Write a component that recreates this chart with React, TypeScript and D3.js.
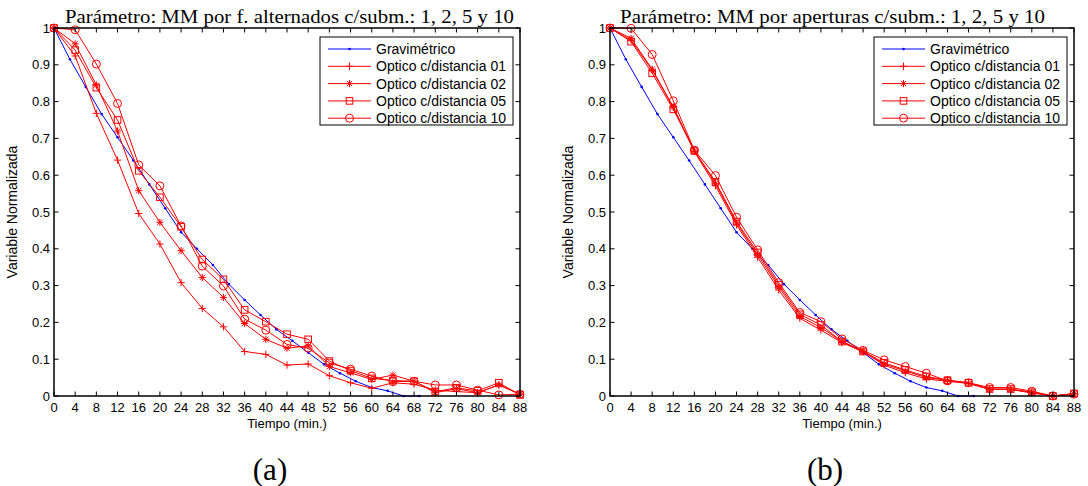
import React from "react";
import * as d3 from "d3";

// ---------- data ----------
const xTicks = [0, 4, 8, 12, 16, 20, 24, 28, 32, 36, 40, 44, 48, 52, 56, 60, 64, 68, 72, 76, 80, 84, 88];
const yTicks = [0, 0.1, 0.2, 0.3, 0.4, 0.5, 0.6, 0.7, 0.8, 0.9, 1];
const yTickLabels = ["0", "0.1", "0.2", "0.3", "0.4", "0.5", "0.6", "0.7", "0.8", "0.9", "1"];

const tOptic = [0, 4, 8, 12, 16, 20, 24, 28, 32, 36, 40, 44, 48, 52, 56, 60, 64, 68, 72, 76, 80, 84, 88];
const tGrav = [0, 3, 6, 9, 12, 15, 18, 21, 24, 27, 30, 33, 36, 39, 42, 45, 48, 51, 54, 57, 60, 63, 66, 69];
const grav = [1, 0.915, 0.84, 0.766, 0.703, 0.64, 0.575, 0.51, 0.445, 0.4, 0.356, 0.304, 0.261, 0.22, 0.181, 0.15, 0.118, 0.086, 0.062, 0.04, 0.023, 0.014, 0, 0];

// panel (a)
const o01a = [1, 0.924, 0.768, 0.641, 0.496, 0.413, 0.308, 0.238, 0.188, 0.121, 0.113, 0.084, 0.087, 0.055, 0.036, 0.021, 0.036, 0.032, 0.016, 0.012, 0.009, 0.03, 0.005];
const o02a = [1, 0.957, 0.845, 0.72, 0.558, 0.472, 0.395, 0.322, 0.268, 0.197, 0.154, 0.13, 0.136, 0.08, 0.063, 0.045, 0.057, 0.04, 0.009, 0.02, 0.009, 0.03, 0.005];
const o05a = [1, 0.94, 0.838, 0.75, 0.612, 0.54, 0.46, 0.371, 0.317, 0.234, 0.202, 0.168, 0.154, 0.095, 0.069, 0.048, 0.042, 0.04, 0.012, 0.022, 0.014, 0.036, 0.003];
const o10a = [1, 0.995, 0.902, 0.795, 0.628, 0.571, 0.462, 0.353, 0.299, 0.209, 0.179, 0.14, 0.13, 0.09, 0.073, 0.054, 0.039, 0.04, 0.03, 0.03, 0.016, 0.003, 0.005];

// panel (b)
const o01b = [1, 0.967, 0.885, 0.785, 0.664, 0.571, 0.465, 0.377, 0.288, 0.211, 0.179, 0.145, 0.12, 0.084, 0.063, 0.046, 0.04, 0.034, 0.018, 0.018, 0.008, 0, 0.006];
const o02b = [1, 0.972, 0.888, 0.785, 0.666, 0.578, 0.47, 0.384, 0.296, 0.216, 0.186, 0.148, 0.122, 0.087, 0.068, 0.05, 0.043, 0.035, 0.018, 0.018, 0.01, 0, 0.006];
const o05b = [1, 0.963, 0.877, 0.779, 0.666, 0.582, 0.474, 0.39, 0.302, 0.222, 0.193, 0.148, 0.121, 0.09, 0.071, 0.053, 0.043, 0.036, 0.019, 0.019, 0.01, 0, 0.007];
const o10b = [1, 0.999, 0.928, 0.802, 0.668, 0.599, 0.486, 0.397, 0.308, 0.227, 0.202, 0.155, 0.124, 0.098, 0.08, 0.062, 0.041, 0.036, 0.023, 0.023, 0.013, 0, 0.005];

const legendLabels = ["Gravimétrico", "Optico c/distancia 01", "Optico c/distancia 02", "Optico c/distancia 05", "Optico c/distancia 10"];
const markerKinds = ["plus", "star", "square", "circle"];

const titleA = "Parámetro: MM por f. alternados c/subm.: 1, 2, 5 y 10";
const titleB = "Parámetro: MM por aperturas c/subm.: 1, 2, 5 y 10";

// ---------- drawing ----------
const SANS = "'Liberation Sans', Arial, Helvetica, sans-serif";
const SERIF = "'Liberation Serif', 'Times New Roman', serif";
const RED = "#ff0000";
const BLUE = "#0000ff";

function Marker({ kind, x, y }: { kind: string; x: number; y: number }) {
  const h = 3.6;
  if (kind === "plus")
    return <path d={`M${x - h},${y}H${x + h}M${x},${y - h}V${y + h}`} stroke={RED} strokeWidth={1} fill="none" />;
  if (kind === "star") {
    const d = h * 0.72;
    return (
      <path
        d={`M${x - h},${y}H${x + h}M${x},${y - h}V${y + h}M${x - d},${y - d}L${x + d},${y + d}M${x - d},${y + d}L${x + d},${y - d}`}
        stroke={RED}
        strokeWidth={1}
        fill="none"
      />
    );
  }
  if (kind === "square")
    return <rect x={x - 3.3} y={y - 3.3} width={6.6} height={6.6} stroke={RED} strokeWidth={1} fill="none" />;
  return <circle cx={x} cy={y} r={4} stroke={RED} strokeWidth={1} fill="none" />;
}

function Panel({
  left,
  right,
  title,
  titleCx,
  titleW,
  series,
  caption,
}: {
  left: number;
  right: number;
  title: string;
  titleCx: number;
  titleW: number;
  series: number[][];
  caption: string;
}) {
  const top = 28;
  const bottom = 396;
  const x = d3.scaleLinear().domain([0, 88]).range([left, right]);
  const y = d3.scaleLinear().domain([0, 1]).range([bottom, top]);
  const line = d3.line<[number, number]>().x((d) => x(d[0])).y((d) => y(d[1]));
  const gravPts = tGrav.map((t, i) => [t, grav[i]] as [number, number]);
  const mid = (left + right) / 2;
  const tl = 4.5;
  const lgW = 193;
  const lgH = 88;
  const lgX = right - 7 - lgW;
  const lgY = 37;
  return (
    <g>
      <text
        x={titleCx}
        y={23}
        textAnchor="middle"
        fontFamily={SERIF}
        fontSize={18.5}
        fill="#000"
        textLength={titleW}
        lengthAdjust="spacingAndGlyphs"
      >
        {title}
      </text>
      {/* data */}
      <path d={line(gravPts) || ""} stroke={BLUE} strokeWidth={1} fill="none" />
      {gravPts.map((p, i) => (
        <circle key={"g" + i} cx={x(p[0])} cy={y(p[1])} r={1.3} fill={BLUE} />
      ))}
      {series.map((vals, si) => {
        const pts = tOptic.map((t, i) => [t, vals[i]] as [number, number]);
        return (
          <g key={"s" + si}>
            <path d={line(pts) || ""} stroke={RED} strokeWidth={1} fill="none" />
            {pts.map((p, i) => (
              <Marker key={i} kind={markerKinds[si]} x={x(p[0])} y={y(p[1])} />
            ))}
          </g>
        );
      })}
      {/* ticks */}
      {xTicks.map((t) => (
        <g key={"xt" + t}>
          <line x1={x(t)} x2={x(t)} y1={bottom} y2={bottom - tl} stroke="#000" strokeWidth={1} />
          <line x1={x(t)} x2={x(t)} y1={top} y2={top + tl} stroke="#000" strokeWidth={1} />
          <text x={x(t)} y={412} textAnchor="middle" fontFamily={SANS} fontSize={13} fill="#000">
            {t}
          </text>
        </g>
      ))}
      {yTicks.map((v, i) => (
        <g key={"yt" + i}>
          <line x1={left} x2={left + tl} y1={y(v)} y2={y(v)} stroke="#000" strokeWidth={1} />
          <line x1={right} x2={right - tl} y1={y(v)} y2={y(v)} stroke="#000" strokeWidth={1} />
          <text x={left - 4} y={y(v) + 4.5} textAnchor="end" fontFamily={SANS} fontSize={13} fill="#000">
            {yTickLabels[i]}
          </text>
        </g>
      ))}
      <rect x={left} y={top} width={right - left} height={bottom - top} fill="none" stroke="#000" strokeWidth={1.5} />
      <text x={mid} y={428} textAnchor="middle" fontFamily={SANS} fontSize={13} fill="#000">
        Tiempo (min.)
      </text>
      <text
        transform={`translate(${left - 37},${(top + bottom) / 2}) rotate(-90)`}
        textAnchor="middle"
        fontFamily={SANS}
        fontSize={14}
        fill="#000"
      >
        Variable Normalizada
      </text>
      {/* legend */}
      <rect x={lgX} y={lgY} width={lgW} height={lgH} fill="#fff" stroke="#000" strokeWidth={1} />
      {legendLabels.map((lab, i) => {
        const ly = lgY + 12 + i * 17.3;
        const x1 = lgX + 8;
        const x2 = lgX + 51;
        return (
          <g key={"lg" + i}>
            <line x1={x1} x2={x2} y1={ly} y2={ly} stroke={i === 0 ? BLUE : RED} strokeWidth={1} />
            {i === 0 ? (
              <circle cx={(x1 + x2) / 2} cy={ly} r={1.3} fill={BLUE} />
            ) : (
              <Marker kind={markerKinds[i - 1]} x={(x1 + x2) / 2} y={ly} />
            )}
            <text x={lgX + 56} y={ly + 5} fontFamily={SANS} fontSize={14} fill="#000">
              {lab}
            </text>
          </g>
        );
      })}
      <text x={mid - 17} y={480} textAnchor="middle" fontFamily={SERIF} fontSize={31} fill="#000">
        {caption}
      </text>
    </g>
  );
}

export default function App() {
  return (
    <svg width={1088} height={486} style={{ position: "absolute", left: 0, top: 0, background: "#fff" }}>
      <rect width={1088} height={486} fill="#fff" />
      <Panel left={54} right={520} title={titleA} titleCx={289.5} titleW={449} series={[o01a, o02a, o05a, o10a]} caption="(a)" />
      <Panel left={610} right={1074} title={titleB} titleCx={832.5} titleW={425} series={[o01b, o02b, o05b, o10b]} caption="(b)" />
    </svg>
  );
}
